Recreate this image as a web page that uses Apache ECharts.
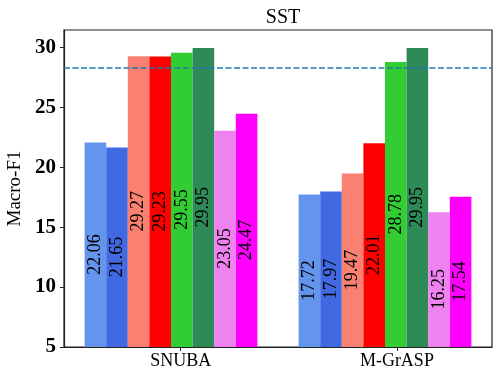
<!DOCTYPE html>
<html>
<head>
<meta charset="utf-8">
<script src="https://cdn.jsdelivr.net/npm/echarts@6/dist/echarts.min.js"></script>
<style>
  html, body { margin: 0; padding: 0; background: #fff; }
  #chart { width: 499px; height: 376px; }
</style>
</head>
<body>
<div id="chart"></div>
<script>
// groups on the x axis
var groups = ['SNUBA', 'M-GrASP'];
// one entry per method (bar), values for SNUBA and M-GrASP
var snubaScores = [22.06, 21.65, 29.27, 29.23, 29.55, 29.95, 23.05, 24.47];
var mgraspScores = [17.72, 17.97, 19.47, 22.01, 28.78, 29.95, 16.25, 17.54];
var baseline = 28.28;
var yTicks = [5, 10, 15, 20, 25, 30];
var xTicks = [0, 1];

var barColors = ['#6495ED', '#4169E1', '#FA8072', '#FF0000', '#32CD32', '#2E8B57', '#EE82EE', '#FF00FF'];
var yMin = 5, yMax = 31.45;
var serif = 'Liberation Serif';

function labelled(v) {
    // text starts at half the bar height
    var pct = (v / 2) / (v - yMin) * 100;
    return {
        value: v,
        label: { position: ['50%', pct + '%'] }
    };
}

var series = barColors.map(function (c, k) {
    var s = {
        type: 'bar',
        xAxisIndex: 1,
        barWidth: 21.6,
        barGap: '0%',
        itemStyle: { color: c },
        label: {
            show: true,
            rotate: 90,
            align: 'left',
            verticalAlign: 'middle',
            color: '#000',
            fontFamily: serif,
            fontSize: 18,
            formatter: function (p) { return p.value.toFixed(2); }
        },
        data: [labelled(snubaScores[k]), labelled(mgraspScores[k])]
    };
    if (k === 0) {
        s.markLine = {
            silent: true,
            symbol: 'none',
            label: { show: false },
            lineStyle: { color: '#1f77b4', width: 1.6, type: [6, 2.5] },
            data: [{ yAxis: baseline }]
        };
    }
    return s;
});

var chart = echarts.init(document.getElementById('chart'));
chart.setOption({
    animation: false,
    title: {
        text: 'SST',
        left: 278,
        top: 3,
        textAlign: 'center',
        textStyle: { fontFamily: serif, fontWeight: 'normal', fontSize: 20, color: '#000' }
    },
    grid: {
        left: 64, right: 7, top: 30, bottom: 29,
        containLabel: false,
        outerBoundsMode: 'none',
        show: true, borderColor: '#222', borderWidth: 1.2
    },
    xAxis: [
        {
            type: 'value',
            min: -0.54,
            max: 1.44,
            position: 'bottom',
            axisLine: { show: true, onZero: false, lineStyle: { color: '#222', width: 1.2 } },
            splitLine: { show: false },
            axisTick: { show: true, customValues: xTicks, length: 4, lineStyle: { color: '#222' } },
            axisLabel: {
                customValues: xTicks,
                margin: 5,
                color: '#000',
                fontFamily: serif,
                fontSize: 18,
                formatter: function (v) { return groups[Math.round(v)] || ''; }
            }
        },
        {
            type: 'category', data: groups, position: 'top',
            axisLine: { show: false, onZero: false }, axisTick: { show: false },
            axisLabel: { show: false }, splitLine: { show: false }
        }
    ],
    yAxis: {
        type: 'value',
        min: yMin,
        max: yMax,
        name: 'Macro-F1',
        nameLocation: 'middle',
        nameGap: 38,
        nameTextStyle: { fontFamily: serif, fontSize: 19, color: '#000' },
        axisLine: { show: true, onZero: false, lineStyle: { color: '#222', width: 1.2 } },
        splitLine: { show: false },
        axisTick: { show: true, customValues: yTicks, length: 4, lineStyle: { color: '#222' } },
        axisLabel: {
            customValues: yTicks,
            margin: 8,
            color: '#000',
            fontFamily: serif,
            fontWeight: 'bold',
            fontSize: 21
        }
    },
    series: series
});
</script>
</body>
</html>
